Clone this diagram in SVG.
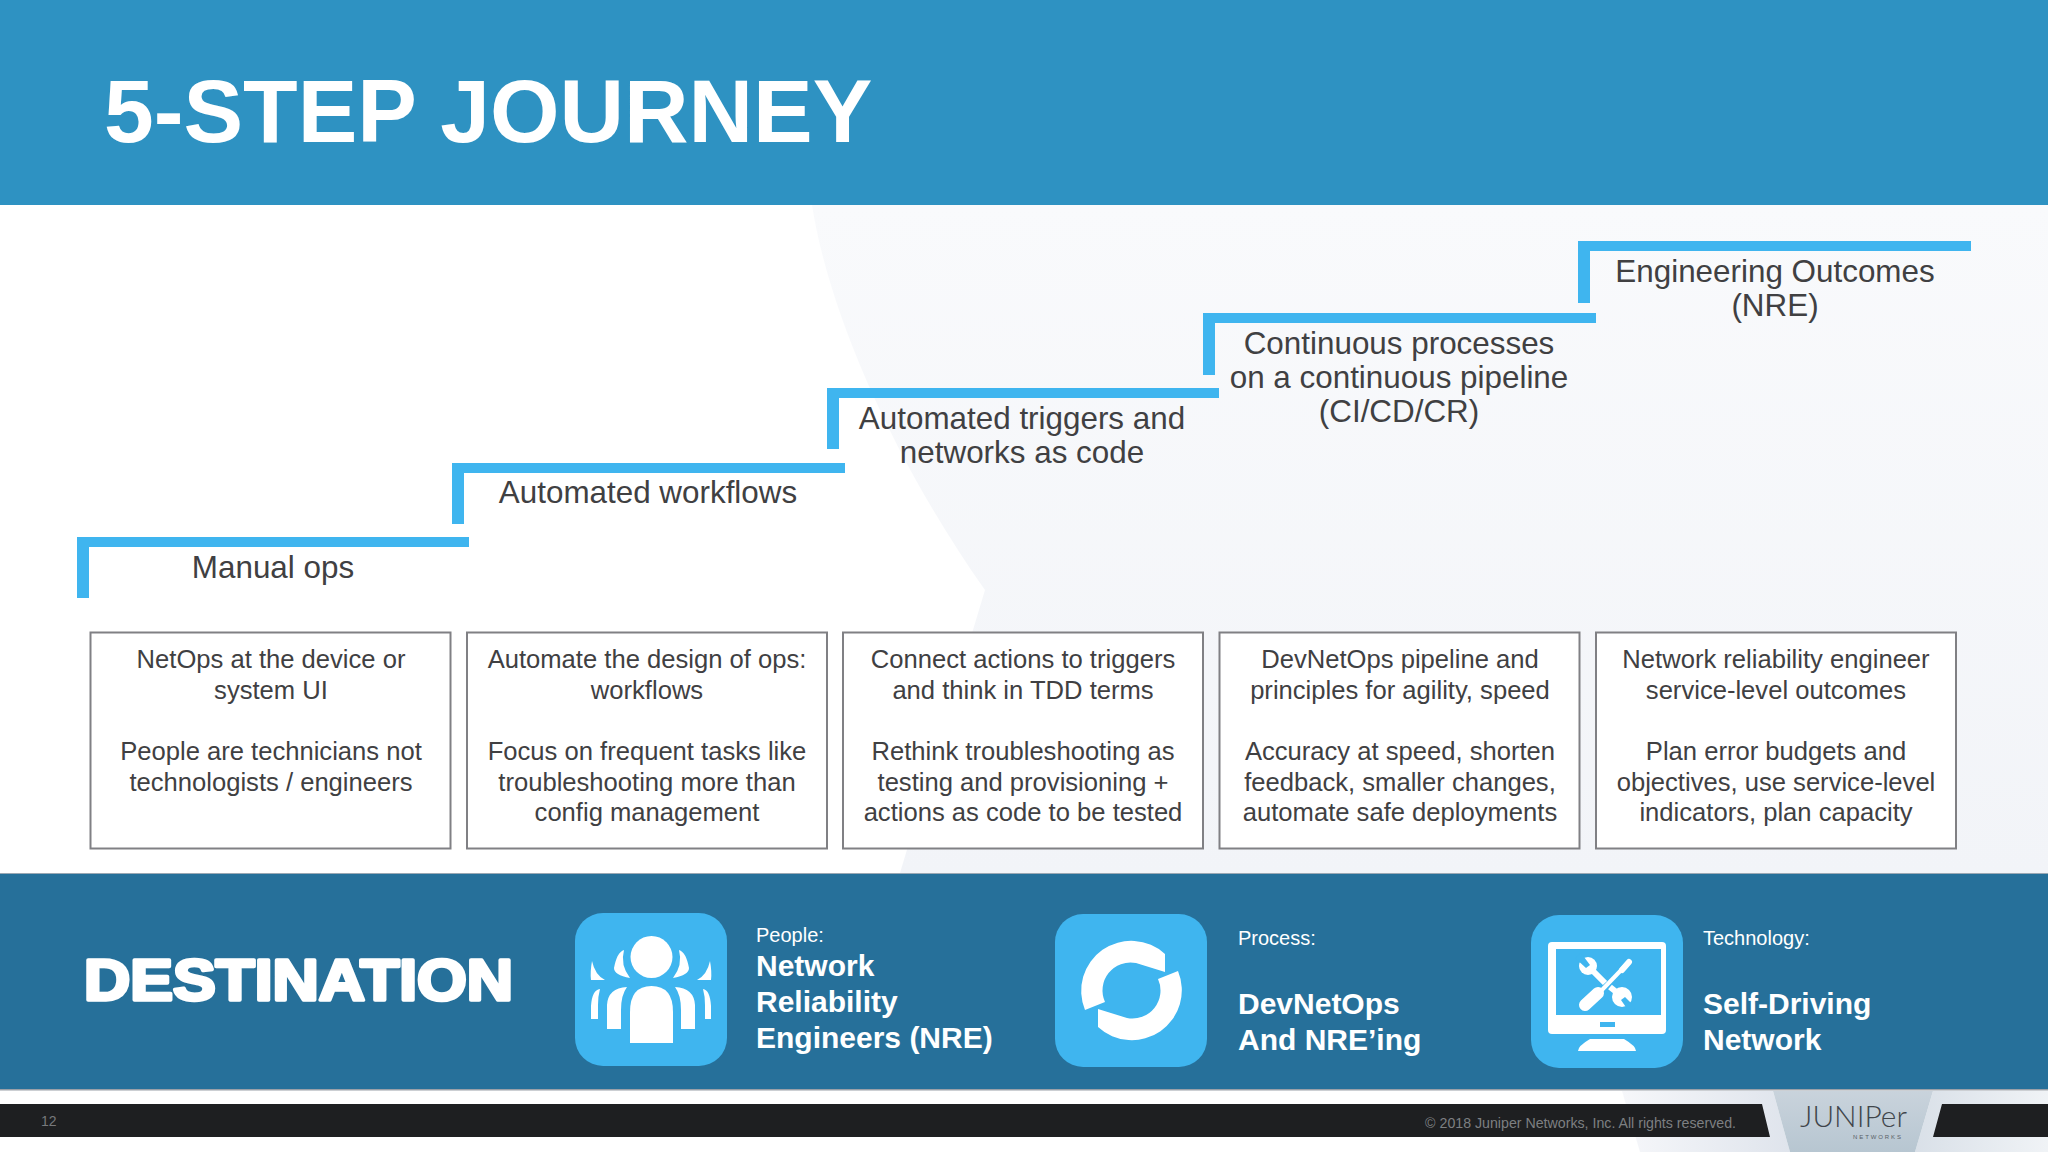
<svg xmlns="http://www.w3.org/2000/svg" width="2048" height="1152" viewBox="0 0 2048 1152">
<defs>
<style>
text{font-family:"Liberation Sans",Arial,sans-serif}
.step{fill:#3fb5ef}
.lab{font-size:31.400px;fill:#404042;text-anchor:middle}
.box{fill:#fff;stroke:#808084;stroke-width:2}
.desc{font-size:25.600px;fill:#404042;text-anchor:middle}
.ic{fill:#3fb5ef}
.w{fill:#fff}
.t{fill:none;stroke:#fff}
.sm{font-size:20px;fill:#fff}
.bd{font-size:30px;font-weight:700;fill:#fff}
</style>
<linearGradient id="wm" x1="0" x2="0" y1="0" y2="1"><stop offset="0" stop-color="#f9fafc"/><stop offset="1" stop-color="#f2f4f8"/></linearGradient>
<linearGradient id="side" x1="0" x2="1" y1="0" y2="0"><stop offset="0" stop-color="#f6f7fa"/><stop offset="1" stop-color="#dfe4ec"/></linearGradient>
<linearGradient id="side2" x1="0" x2="1" y1="0" y2="0"><stop offset="0" stop-color="#d9e0e8"/><stop offset="1" stop-color="#f0f3f6"/></linearGradient>
<linearGradient id="mid" x1="0" x2="0" y1="0" y2="1"><stop offset="0" stop-color="#c9d3dc"/><stop offset="1" stop-color="#b7c6d1"/></linearGradient>
</defs>
<rect width="2048" height="1152" fill="#fff"/>
<path d="M812 205H2048V873H900L985 590C900 470 830 320 812 205Z" fill="url(#wm)"/>
<rect id="header" width="2048" height="205" fill="#2e92c2"/>
<text x="104" y="142" font-size="89.400" font-weight="700" fill="#fff">5-STEP JOURNEY</text>
<g id="step1"><path class="step" d="M77 537H469V547H89V598H77Z"/><text class="lab" x="273" y="578">Manual ops</text></g>
<g id="step2"><path class="step" d="M452 463H845V473H464V524H452Z"/><text class="lab" x="648" y="503">Automated workflows</text></g>
<g id="step3"><path class="step" d="M827 388H1219V398H839V449H827Z"/><text class="lab" x="1022" y="429">Automated triggers and</text><text class="lab" x="1022" y="463">networks as code</text></g>
<g id="step4"><path class="step" d="M1203 313H1596V323H1215V375H1203Z"/><text class="lab" x="1399" y="354">Continuous processes</text><text class="lab" x="1399" y="388">on a continuous pipeline</text><text class="lab" x="1399" y="422">(CI/CD/CR)</text></g>
<g id="step5"><path class="step" d="M1578 241H1971V251H1590V303H1578Z"/><text class="lab" x="1775" y="282">Engineering Outcomes</text><text class="lab" x="1775" y="316">(NRE)</text></g>
<g id="box1"><rect class="box" x="90.500" y="632.500" width="360" height="216"/><text class="desc" x="271" y="668">NetOps at the device or</text><text class="desc" x="271" y="699">system UI</text><text class="desc" x="271" y="760">People are technicians not</text><text class="desc" x="271" y="791">technologists / engineers</text></g>
<g id="box2"><rect class="box" x="467" y="632.500" width="360" height="216"/><text class="desc" x="647" y="668">Automate the design of ops:</text><text class="desc" x="647" y="699">workflows</text><text class="desc" x="647" y="760">Focus on frequent tasks like</text><text class="desc" x="647" y="791">troubleshooting more than</text><text class="desc" x="647" y="821">config management</text></g>
<g id="box3"><rect class="box" x="843" y="632.500" width="360" height="216"/><text class="desc" x="1023" y="668">Connect actions to triggers</text><text class="desc" x="1023" y="699">and think in TDD terms</text><text class="desc" x="1023" y="760">Rethink troubleshooting as</text><text class="desc" x="1023" y="791">testing and provisioning +</text><text class="desc" x="1023" y="821">actions as code to be tested</text></g>
<g id="box4"><rect class="box" x="1219.500" y="632.500" width="360" height="216"/><text class="desc" x="1400" y="668">DevNetOps pipeline and</text><text class="desc" x="1400" y="699">principles for agility, speed</text><text class="desc" x="1400" y="760">Accuracy at speed, shorten</text><text class="desc" x="1400" y="791">feedback, smaller changes,</text><text class="desc" x="1400" y="821">automate safe deployments</text></g>
<g id="box5"><rect class="box" x="1596" y="632.500" width="360" height="216"/><text class="desc" x="1776" y="668">Network reliability engineer</text><text class="desc" x="1776" y="699">service-level outcomes</text><text class="desc" x="1776" y="760">Plan error budgets and</text><text class="desc" x="1776" y="791">objectives, use service-level</text><text class="desc" x="1776" y="821">indicators, plan capacity</text></g>
<g id="band"><rect y="873" width="2048" height="216" fill="#26709a"/><rect y="1089" width="2048" height="1.500" fill="#9aa0a8"/><rect y="873" width="2048" height="1" fill="#9aa8b4"/>
<text x="84" y="999.500" font-size="56.500" font-weight="700" fill="#fff" stroke="#fff" stroke-width="3.500" stroke-linejoin="round" textLength="429" lengthAdjust="spacingAndGlyphs">DESTINATION</text></g>
<g id="people">
<rect class="ic" x="575" y="913" width="152" height="153" rx="28"/>
<ellipse class="w" cx="651.500" cy="957" rx="21" ry="21"/>
<path class="w" d="M630 1043V1012Q630 986 651.500 986Q673 986 673 1012V1043Z"/>
<path class="w" d="M624 950Q617 952 614 968Q614 975 630 978Q620 965 624 950ZM679 950Q686 952 689 968Q689 975 673 978Q683 965 679 950Z"/>
<path class="w" d="M592 961Q590 972 591 980Q595 980 605 980Q595 975 592 961ZM710 961Q712 972 711 980Q707 980 697 980Q707 975 710 961Z"/>
<path class="w" d="M607 1029V1005Q608 988 627 987Q621 995 621 1010V1029ZM695 1029V1005Q694 988 675 987Q681 995 681 1010V1029Z"/>
<path class="w" d="M591 1019V1006Q592 990 600 989Q598 996 598 1005V1019ZM711 1019V1006Q710 990 703 989Q705 996 705 1005V1019Z"/>
<text class="sm" x="756" y="942">People:</text><text class="bd" x="756" y="976">Network</text><text class="bd" x="756" y="1012">Reliability</text><text class="bd" x="756" y="1048">Engineers (NRE)</text></g>
<g id="process">
<rect class="ic" x="1055" y="914" width="152" height="153" rx="28"/>
<path class="w" d="M1165 954V972L1136 963A28 28 0 0 0 1105 1002L1085 1010A50 50 0 0 1 1165 954Z"/><path class="w" d="M1098 1027V1009L1127 1018A28 28 0 0 0 1158 979L1178 971A50 50 0 0 1 1098 1027Z"/>
<text class="sm" x="1238" y="945">Process:</text><text class="bd" x="1238" y="1014">DevNetOps</text><text class="bd" x="1238" y="1050">And NRE’ing</text></g>
<g id="technology">
<rect class="ic" x="1531" y="915" width="152" height="153" rx="28"/>
<rect class="w" x="1548" y="942" width="118" height="92" rx="4"/>
<rect class="ic" x="1556" y="949" width="105" height="66"/>
<rect class="ic" x="1600" y="1022" width="15" height="5"/>
<path class="w" d="M1578 1051Q1578 1046 1590 1039H1624Q1636 1046 1636 1051Z"/>
<path class="t" stroke-width="6" d="M1592 970L1605 983"/>
<circle class="w" cx="1588" cy="966" r="9"/>
<path class="ic" d="M1575 958L1581 953L1590 965L1586 968Z"/>
<path class="t" stroke-width="6" d="M1610 987L1620 995"/>
<circle class="w" cx="1622" cy="997" r="10"/>
<path class="ic" d="M1636 1008L1630 1013L1621 1000L1625 997Z"/>
<path class="t" stroke-width="4" d="M1600 992L1627 964"/>
<path class="t" stroke-width="12" stroke-linecap="round" d="M1585 1005L1598 993"/>
<path class="t" stroke-width="6" stroke-linecap="round" d="M1622 970L1629 962"/>
<text class="sm" x="1703" y="945">Technology:</text><text class="bd" x="1703" y="1014">Self-Driving</text><text class="bd" x="1703" y="1050">Network</text></g>
<g id="footer">
<path d="M1622 1091H1773L1790 1152H1640Z" fill="url(#side)"/>
<path d="M1933 1091H2048V1152H1915Z" fill="url(#side2)"/>
<path d="M1773 1091H1933L1915 1152H1790Z" fill="url(#mid)"/>
<path d="M0 1104H1762L1770 1137H0ZM1942 1104H2048V1137H1933Z" fill="#1e1f21"/>
<text x="41" y="1126" font-size="14" fill="#77797c">12</text>
<text x="1736" y="1128" font-size="14.200" fill="#7d7f82" text-anchor="end">© 2018 Juniper Networks, Inc. All rights reserved.</text>
<text x="1800" y="1127" font-size="30" fill="#3f454b" style="font-family:Lato,sans-serif" font-weight="300" textLength="107" lengthAdjust="spacingAndGlyphs">JUNIPer</text>
<text x="1853" y="1138.500" font-size="6" fill="#5a6066" textLength="48">NETWORKS</text>
</g>
</svg>
